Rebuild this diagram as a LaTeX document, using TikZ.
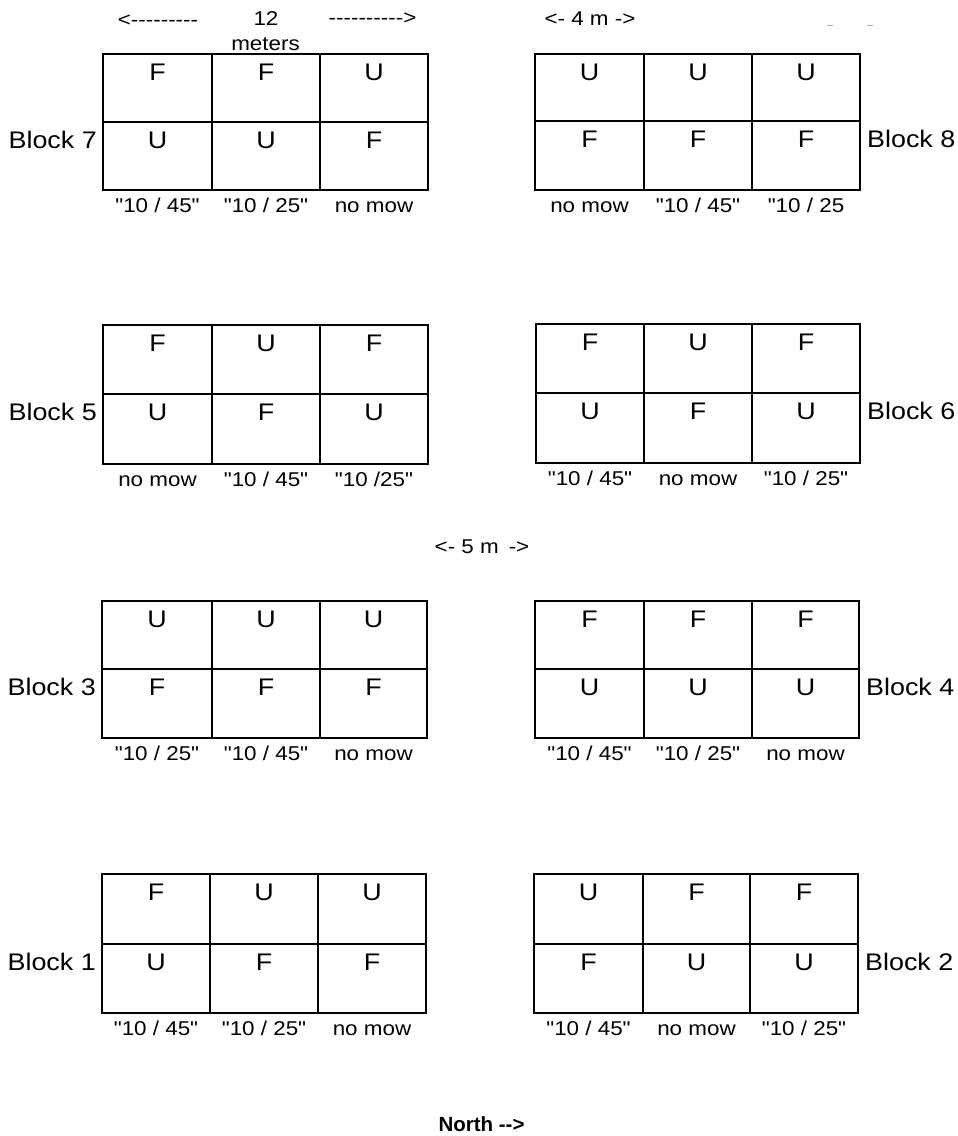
\documentclass[tikz,border=0pt]{standalone}
\usepackage{fontspec}
\newfontfamily\ar[FakeStretch=1.12,Ligatures=TeXOff]{Liberation Sans}
\newfontfamily\arn[Ligatures=TeXOff]{Liberation Sans}
\tikzset{
  gridline/.style={line width=1.2pt, black},
  letter/.style={inner sep=0pt, anchor=base, font=\ar\fontsize{24}{28}\selectfont},
  collab/.style={inner sep=0pt, anchor=base, font=\ar\fontsize{20}{24}\selectfont},
  blklab/.style={inner sep=0pt, font=\ar\fontsize{24}{28}\selectfont},
  note/.style={inner sep=0pt, anchor=base, font=\ar\fontsize{20}{24}\selectfont},
  northlab/.style={inner sep=0pt, anchor=base, font=\arn\bfseries\fontsize{20.5}{24}\selectfont},
  speck/.style={line width=0.8pt, black!35}
}
% #1 id, #2-#5 column edges x, #6-#8 row edges y
\newcommand\blk[8]{%
  \draw[gridline] (#2,#6) rectangle (#5,#8);
  \draw[gridline] (#2,#7) -- (#5,#7) (#3,#6) -- (#3,#8) (#4,#6) -- (#4,#8);
  \coordinate (#1-t1) at ({(#2+#3)/2},{#6+26});
  \coordinate (#1-t2) at ({(#3+#4)/2},{#6+26});
  \coordinate (#1-t3) at ({(#4+#5)/2},{#6+26});
  \coordinate (#1-b1) at ({(#2+#3)/2},{#7+26});
  \coordinate (#1-b2) at ({(#3+#4)/2},{#7+26});
  \coordinate (#1-b3) at ({(#4+#5)/2},{#7+26});
  \coordinate (#1-l1) at ({(#2+#3)/2},{#8+22});
  \coordinate (#1-l2) at ({(#3+#4)/2},{#8+22});
  \coordinate (#1-l3) at ({(#4+#5)/2},{#8+22});
  \coordinate (#1-w) at ({#2-6},{#7+26});
  \coordinate (#1-e) at ({#5+7},{#7+26});
}
\newcommand\ltr[7]{%
  \node[letter] (#1-T1) at (#1-t1) {#2};
  \node[letter] (#1-T2) at (#1-t2) {#3};
  \node[letter] (#1-T3) at (#1-t3) {#4};
  \node[letter] (#1-B1) at (#1-b1) {#5};
  \node[letter] (#1-B2) at (#1-b2) {#6};
  \node[letter] (#1-B3) at (#1-b3) {#7};
}
\newcommand\lab[4]{%
  \node[collab] (#1-L1) at (#1-l1) {#2};
  \node[collab] (#1-L2) at (#1-l2) {#3};
  \node[collab] (#1-L3) at (#1-l3) {#4};
}
\begin{document}
\begin{tikzpicture}[x=1pt,y=-1pt]
\useasboundingbox[fill=white] (0,0) rectangle (958,1136);

% Block 7
\blk{b7}{103}{212}{320}{428}{54}{122}{190}
\ltr{b7}{F}{F}{U}{U}{U}{F}
\lab{b7}{"10 / 45"}{"10 / 25"}{no mow}
\node[blklab, anchor=base east] (n7) at (b7-w) {Block 7};

% Block 8
\blk{b8}{535}{644}{752}{860}{54}{121}{190}
\ltr{b8}{U}{U}{U}{F}{F}{F}
\lab{b8}{no mow}{"10 / 45"}{"10 / 25}
\node[blklab, anchor=base west] (n8) at (b8-e) {Block 8};

% Block 5
\blk{b5}{103}{212}{320}{428}{325}{394}{464}
\ltr{b5}{F}{U}{F}{U}{F}{U}
\lab{b5}{no mow}{"10 / 45"}{"10 /25"}
\node[blklab, anchor=base east] (n5) at (b5-w) {Block 5};

% Block 6
\blk{b6}{536}{644}{752}{860}{324}{393}{463}
\ltr{b6}{F}{U}{F}{U}{F}{U}
\lab{b6}{"10 / 45"}{no mow}{"10 / 25"}
\node[blklab, anchor=base west] (n6) at (b6-e) {Block 6};

% Block 3
\blk{b3}{102}{212}{320}{427}{601}{669}{738}
\ltr{b3}{U}{U}{U}{F}{F}{F}
\lab{b3}{"10 / 25"}{"10 / 45"}{no mow}
\node[blklab, anchor=base east] (n3) at (b3-w) {Block 3};

% Block 4
\blk{b4}{535}{644}{752}{859}{601}{669}{738}
\ltr{b4}{F}{F}{F}{U}{U}{U}
\lab{b4}{"10 / 45"}{"10 / 25"}{no mow}
\node[blklab, anchor=base west] (n4) at (b4-e) {Block 4};

% Block 1
\blk{b1}{102}{210}{318}{426}{874}{944}{1013}
\ltr{b1}{F}{U}{U}{U}{F}{F}
\lab{b1}{"10 / 45"}{"10 / 25"}{no mow}
\node[blklab, anchor=base east] (n1) at (b1-w) {Block 1};

% Block 2
\blk{b2}{534}{643}{750}{858}{874}{944}{1013}
\ltr{b2}{U}{F}{F}{F}{U}{U}
\lab{b2}{"10 / 45"}{no mow}{"10 / 25"}
\node[blklab, anchor=base west] (n2) at (b2-e) {Block 2};

% top annotations
\node[note] (arrL) at (158,26) {<---------};
\node[note] (twelve) at (266,25) {12};
\node[note] (meters) at (265.5,50) {meters};
\node[note] (arrR) at (372.5,24) {---------->};
\node[note] (four) at (590,25) {<- 4 m ->};
\node[note] (five) at (482,553) {<- 5 m\enspace->};
\node[northlab] (north) at (481.5,1131) {North -->};

% faint specks at top right
\coordinate (s1a) at (827,25); \coordinate (s1b) at (833,25);
\coordinate (s2a) at (867,25); \coordinate (s2b) at (873,25);
\draw[speck] (s1a) -- (s1b) (s2a) -- (s2b);
\end{tikzpicture}
\end{document}
